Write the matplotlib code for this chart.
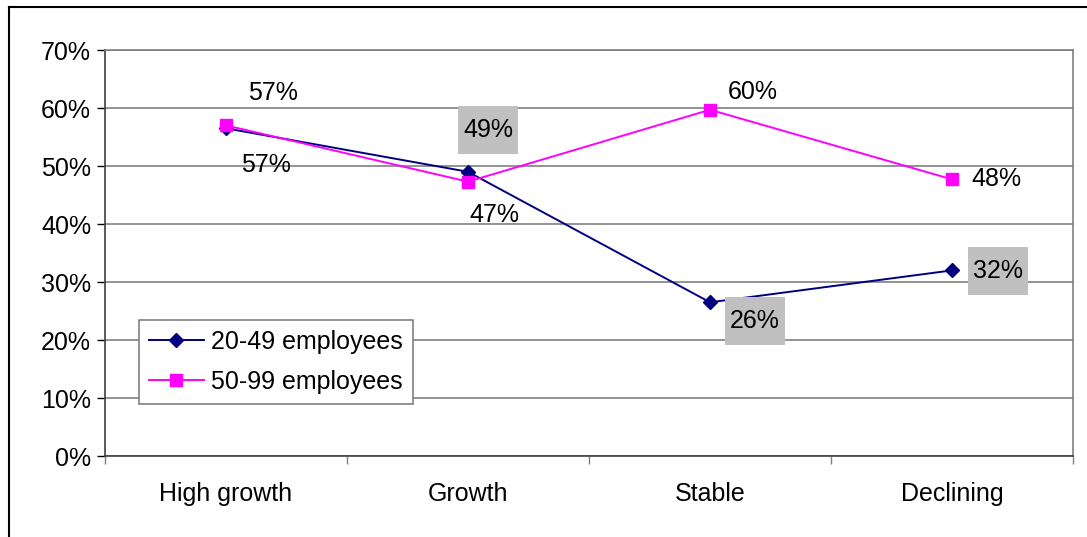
import matplotlib.pyplot as plt
from matplotlib.lines import Line2D
from matplotlib.ticker import FuncFormatter

plt.rcParams['font.family'] = ['Liberation Sans', 'DejaVu Sans']

# Data
categories = ["High growth", "Growth", "Stable", "Declining"]
small = [0.565, 0.49, 0.265, 0.32]      # 20-49 employees
medium = [0.57, 0.473, 0.597, 0.477]    # 50-99 employees
small_labels = ["57%", "49%", "26%", "32%"]
medium_labels = ["57%", "47%", "60%", "48%"]

# label offsets in pixels (dx, dy up)
small_off = [(40, -37), (20, 42), (45, -19), (46, -1)]
small_box = [False, True, True, True]
medium_off = [(47, 32), (26, -33), (43, 18), (44, 0)]

fig = plt.figure(figsize=(10.87, 5.37), dpi=100)
ax = fig.add_axes([105 / 1087, 1 - 456 / 537, 968 / 1087, 406 / 537])

x = [i + 0.5 for i in range(len(categories))]
ax.plot(x, small, color="#000080", lw=1.4, marker="D", markersize=7,
        label="20-49 employees", zorder=3)
ax.plot(x, medium, color="#FF00FF", lw=1.4, marker="s", markersize=8,
        label="50-99 employees", zorder=4)

for xi, v, lab, off, box in zip(x, small, small_labels, small_off, small_box):
    bbox = dict(boxstyle="square,pad=0.2", fc="#C0C0C0", ec="none") if box else None
    ann = ax.annotate(lab, (xi, v), xytext=off, textcoords="offset pixels",
                      ha="center", va="center", fontsize=18, bbox=bbox, zorder=5)
    if box:
        ann.get_bbox_patch().set_mutation_aspect(2.4)
for xi, v, lab, off in zip(x, medium, medium_labels, medium_off):
    ax.annotate(lab, (xi, v), xytext=off, textcoords="offset pixels",
                ha="center", va="center", fontsize=18, zorder=5)

ax.set_xlim(0, 4)
ax.set_ylim(0, 0.7)
ax.set_yticks([i / 10 for i in range(8)])
ax.yaxis.set_major_formatter(FuncFormatter(lambda v, p: f"{v * 100:.0f}%"))
ax.grid(axis="y", color="#808080", lw=1.2)
ax.set_axisbelow(True)

ax.set_xticks([0, 1, 2, 3, 4])
ax.set_xticklabels([])
ax.set_xticks(x, minor=True)
ax.set_xticklabels(categories, minor=True)
ax.tick_params(axis="x", which="minor", length=0, pad=19, labelsize=18)
ax.tick_params(axis="x", which="major", length=6, width=1, color="#808080")
ax.tick_params(axis="y", length=6, width=1, labelsize=18, pad=4)

for s in ["left", "bottom"]:
    ax.spines[s].set_color("#404040")
    ax.spines[s].set_linewidth(1.2)
for s in ["top", "right"]:
    ax.spines[s].set_color("#808080")
    ax.spines[s].set_linewidth(1.2)

leg = ax.legend(loc="lower left", bbox_to_anchor=(0.035, 0.128), borderaxespad=0,
                fontsize=18, frameon=True, fancybox=False, framealpha=1,
                edgecolor="#808080", handlelength=2.2, labelspacing=0.65,
                borderpad=0.4, handletextpad=0.3)
leg.get_frame().set_linewidth(1.2)

# outer chart frame
fig.add_artist(Line2D([9 / 1087, 9 / 1087], [0, 1 - 7 / 537],
                      transform=fig.transFigure, color="black", lw=1.5))
fig.add_artist(Line2D([9 / 1087, 1], [1 - 7 / 537, 1 - 7 / 537],
                      transform=fig.transFigure, color="black", lw=1.5))

fig.savefig("out.png", dpi=100)
